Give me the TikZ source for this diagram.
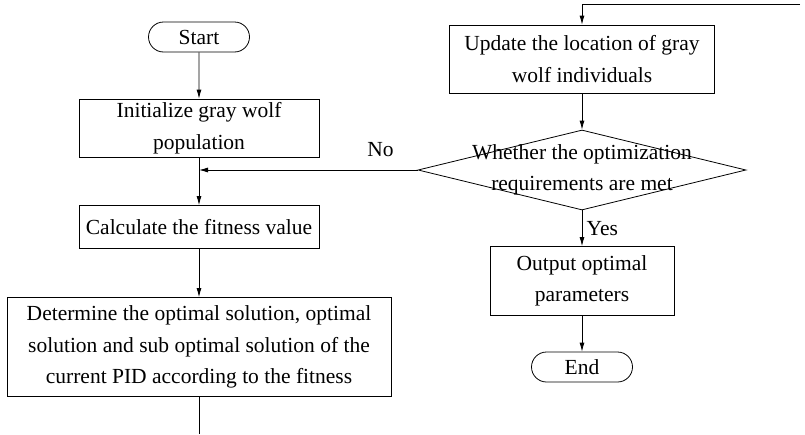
\documentclass[tikz,border=0pt]{standalone}
\usepackage{fontspec}
\setmainfont{Liberation Serif}
\usepackage{tikz}
\usetikzlibrary{arrows.meta,positioning,shapes.geometric,shapes.misc}

\tikzset{
  procbox/.style={draw,line width=0.8pt,align=center,inner sep=0pt},
  termbox/.style={draw,line width=0.8pt,rounded rectangle,inner sep=0pt,
    minimum width=101pt,minimum height=30pt},
  flow/.style={line width=0.8pt,-{Latex[length=9pt,width=5pt]}},
}

\begin{document}
\begin{tikzpicture}[x=1pt,y=-1pt,font=\fontsize{21.5}{31.5}\selectfont]
  \useasboundingbox (0,0) rectangle (805,434);

  % left column
  \node[termbox] (start) at (199,37) {Start};
  \node[procbox,minimum width=240pt,minimum height=58pt] (init) at (199,128)
    {Initialize gray wolf\\population};
  \node[procbox,minimum width=240pt,minimum height=43pt] (calc) at (199,227)
    {Calculate the fitness value};
  \node[procbox,minimum width=384pt,minimum height=99pt] (det) at (199,347)
    {Determine the optimal solution, optimal\\solution and sub optimal solution of the\\current PID according to the fitness};
  \coordinate (loopl) at (199,434);

  % right column
  \coordinate (loopr) at (800,4);
  \node[procbox,minimum width=265pt,minimum height=68pt] (update) at (582,59)
    {Update the location of gray\\wolf individuals};
  \node[draw,line width=0.8pt,diamond,inner sep=0pt,minimum width=328pt,
    minimum height=80pt,
    label={[align=center]center:Whether the optimization\\requirements are met}]
    (dec) at (582,170) {};
  \node[procbox,minimum width=184pt,minimum height=69pt] (out) at (582,281)
    {Output optimal\\parameters};
  \node[termbox] (end) at (582,367) {End};

  \draw[flow] (start) -- (init);
  \draw[flow] (init) -- (calc);
  \draw[flow] (calc) -- (det);
  \draw[line width=0.8pt] (det.south) -- (loopl);
  \draw[flow] (loopr) -| (update.north);
  \draw[flow] (update) -- (dec);
  \draw[flow] (dec.west) -- (dec.west -| calc.north)
    node[pos=0.17,above=10pt] {No};
  \draw[flow] (dec.south) -- (out.north)
    node[midway,right=1pt] {Yes};
  \draw[flow] (out) -- (end);
\end{tikzpicture}
\end{document}
